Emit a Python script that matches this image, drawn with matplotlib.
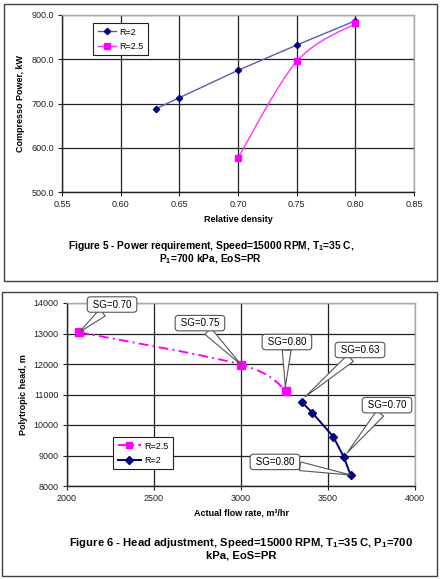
import matplotlib
matplotlib.use("Agg")
import matplotlib.pyplot as plt
from matplotlib.path import Path
from matplotlib.patches import PathPatch, Rectangle
from matplotlib.lines import Line2D
import numpy as np

plt.rcParams['font.family'] = ['Liberation Sans', 'DejaVu Sans']
plt.rcParams['mathtext.fontset'] = 'custom'
plt.rcParams['mathtext.rm'] = 'Liberation Sans'
plt.rcParams['mathtext.bf'] = 'Liberation Sans:bold'

# ---- Figure 5 data ----
density_r2 = [0.63, 0.65, 0.70, 0.75, 0.80]
power_r2 = [688, 713, 775, 832, 887]
density_r25 = [0.70, 0.75, 0.80]
power_r25 = [577, 795, 881]
x5_ticks = [0.55, 0.60, 0.65, 0.70, 0.75, 0.80, 0.85]
y5_ticks = [500, 600, 700, 800, 900]

# ---- Figure 6 data ----
flow_r25 = [2070, 3000, 3260]
head_r25 = [13040, 11980, 11130]
sg_r25 = ["SG=0.70", "SG=0.75", "SG=0.80"]
flow_r2 = [3350, 3410, 3530, 3590, 3630]
head_r2 = [10750, 10400, 9620, 8960, 8360]
sg_r2 = ["SG=0.63", "SG=0.70", "SG=0.80"]
x6_ticks = [2000, 2500, 3000, 3500, 4000]
y6_ticks = [8000, 9000, 10000, 11000, 12000, 13000, 14000]

W, H = 444, 579
fig = plt.figure(figsize=(W / 100, H / 100), dpi=100)


def px(x0, y0, x1, y1):
    return [x0 / W, 1 - y1 / H, (x1 - x0) / W, (y1 - y0) / H]


def smooth_path(xs, ys):
    pts = np.column_stack([xs, ys]).astype(float)
    n = len(pts)
    verts = [pts[0]]
    codes = [Path.MOVETO]
    for i in range(n - 1):
        p0 = pts[i - 1] if i > 0 else pts[i]
        p1 = pts[i]
        p2 = pts[i + 1]
        p3 = pts[i + 2] if i + 2 < n else pts[i + 1]
        c1 = p1 + (p2 - p0) / 6.0
        c2 = p2 - (p3 - p1) / 6.0
        verts += [c1, c2, p2]
        codes += [Path.CURVE4] * 3
    return Path(verts, codes)


def style_axes(ax):
    ax.set_facecolor('white')
    for s in ['left', 'bottom']:
        ax.spines[s].set_color('#202020')
        ax.spines[s].set_linewidth(1.0)
    for s in ['top', 'right']:
        ax.spines[s].set_color('#a8a8a8')
        ax.spines[s].set_linewidth(1.0)
    ax.grid(True, color='#202020', linewidth=0.9)
    ax.set_axisbelow(True)
    ax.tick_params(direction='out', length=3, width=0.8, labelsize=6.5, colors='#202020', pad=3)


# ---------------- Figure 5 ----------------
ax1 = fig.add_axes(px(62, 15, 414, 192))
style_axes(ax1)
ax1.set_xlim(0.55, 0.85)
ax1.set_ylim(500, 900)
ax1.set_xticks(x5_ticks)
ax1.set_yticks(y5_ticks)
ax1.set_xticklabels([f"{v:.2f}" for v in x5_ticks])
ax1.set_yticklabels([f"{v:.1f}" for v in y5_ticks])
ax1.plot(density_r2, power_r2, color='#5a5aaa', lw=1.0, marker='D', ms=3.2,
         mfc='#000080', mec='#000080', label='R=2', clip_on=False, zorder=3)
ax1.add_patch(PathPatch(smooth_path(density_r25, power_r25), fill=False,
                        ec='#ff33ff', lw=1.0, zorder=3))
ax1.plot(density_r25, power_r25, ls='none', marker='s', ms=4.2, mfc='#ff00ff',
         mec='#ff00ff', clip_on=False, zorder=4)
ax1.set_xlabel('Relative density', fontsize=6.5, fontweight='bold', labelpad=4)
ax1.set_ylabel('Compresso Power, kW', fontsize=6.5, fontweight='bold', labelpad=4)
h1 = [Line2D([], [], color='#5a5aaa', lw=1.0, marker='D', ms=3.2, mfc='#000080', mec='#000080'),
      Line2D([], [], color='#ff33ff', lw=1.0, marker='s', ms=4.2, mfc='#ff00ff', mec='#ff00ff')]
leg1 = ax1.legend(h1, ['R=2', 'R=2.5'], loc='upper left', bbox_to_anchor=(93 / W, 1 - 23 / H),
                  bbox_transform=fig.transFigure, borderaxespad=0, fancybox=False,
                  fontsize=6.5, handlelength=2.0, framealpha=1, edgecolor='#202020',
                  borderpad=0.5, labelspacing=0.6, handletextpad=0.4)
leg1.get_frame().set_linewidth(0.8)

fig.text(211 / W, 1 - 246 / H,
         r"Figure 5 - Power requirement, Speed=15000 RPM, T$_\mathbf{1}$=35 C,",
         ha='center', va='center', fontsize=7.4, fontweight='bold')
fig.text(210 / W, 1 - 259 / H, r"P$_\mathbf{1}$=700 kPa, EoS=PR",
         ha='center', va='center', fontsize=7.4, fontweight='bold')
fig.add_artist(Rectangle((4 / W, 1 - 281 / H), 433 / W, 277 / H, transform=fig.transFigure,
                         fill=False, ec='#404040', lw=1.0))

# ---------------- Figure 6 ----------------
ax2 = fig.add_axes(px(67, 303, 415, 486))
style_axes(ax2)
ax2.set_xlim(2000, 4000)
ax2.set_ylim(8000, 14000)
ax2.set_xticks(x6_ticks)
ax2.set_yticks(y6_ticks)
ax2.add_patch(PathPatch(smooth_path(flow_r25, head_r25), fill=False, ec='#ff00ff',
                        lw=1.4, ls=(0, (5, 2.2, 1, 2.2)), zorder=3))
ax2.plot(flow_r25, head_r25, ls='none', marker='s', ms=5.2, mfc='#ff00ff', mec='#ff00ff',
         clip_on=False, zorder=4)
ax2.plot(flow_r2, head_r2, color='#000080', lw=1.4, marker='D', ms=4.0, mfc='#000080',
         mec='#000080', clip_on=False, zorder=4)
ax2.set_xlabel('Actual flow rate, m³/hr', fontsize=6.5, fontweight='bold', labelpad=4)
ax2.set_ylabel('Polytropic head, m', fontsize=6.5, fontweight='bold', labelpad=4)

h2 = [Line2D([], [], color='#ff00ff', lw=1.4, ls=(0, (5, 2.2, 1, 2.2)), marker='s', ms=5,
             mfc='#ff00ff', mec='#ff00ff'),
      Line2D([], [], color='#000080', lw=1.4, marker='D', ms=4, mfc='#000080', mec='#000080')]
leg2 = ax2.legend(h2, ['R=2.5', 'R=2'], loc='upper left', bbox_to_anchor=(113 / W, 1 - 437 / H),
                  bbox_transform=fig.transFigure, borderaxespad=0, fancybox=False,
                  fontsize=6.5, handlelength=2.6, framealpha=1, edgecolor='#202020',
                  borderpad=0.5, labelspacing=0.6, handletextpad=0.4)
leg2.get_frame().set_linewidth(0.8)

box = dict(boxstyle='round,pad=0.28,rounding_size=0.35', fc='white', ec='#555555', lw=0.8)
arrow = dict(arrowstyle='wedge,tail_width=0.9,shrink_factor=0.5', fc='white', ec='#555555',
             lw=0.8, shrinkA=0, shrinkB=0)

# callouts for R=2.5
r25_text_pos = [(2259, 13950), (2764, 13340), (3264, 12720)]
r25_tip_off = [(0, 0), (0, 0), (-5, 120)]
for xv, yv, lab, tp, off in zip(flow_r25, head_r25, sg_r25, r25_text_pos, r25_tip_off):
    ax2.annotate(" " + lab + " ", xy=(xv + off[0], yv + off[1]), xytext=tp, ha='center',
                 va='center', fontsize=7, bbox=box, arrowprops=arrow,
                 annotation_clip=False, zorder=6)

# callouts for R=2
r2_idx = [0, 3, 4]
r2_text_pos = [(3684, 12460), (3839, 10650), (3195, 8790)]
r2_tip_off = [(18, 170), (19, 120), (0, 0)]
for lab, i, tp, off in zip(sg_r2, r2_idx, r2_text_pos, r2_tip_off):
    ax2.annotate(" " + lab + " ", xy=(flow_r2[i] + off[0], head_r2[i] + off[1]), xytext=tp,
                 ha='center', va='center', fontsize=7, bbox=box, arrowprops=arrow,
                 annotation_clip=False, zorder=6)

fig.text(241 / W, 1 - 543 / H,
         r"Figure 6 - Head adjustment, Speed=15000 RPM, T$_\mathbf{1}$=35 C, P$_\mathbf{1}$=700",
         ha='center', va='center', fontsize=8.1, fontweight='bold')
fig.text(241 / W, 1 - 556 / H, "kPa, EoS=PR",
         ha='center', va='center', fontsize=8.1, fontweight='bold')
fig.add_artist(Rectangle((2 / W, 1 - 576 / H), 435 / W, 284 / H, transform=fig.transFigure,
                         fill=False, ec='#404040', lw=1.0))

fig.savefig('out.png', dpi=100, facecolor='white')
